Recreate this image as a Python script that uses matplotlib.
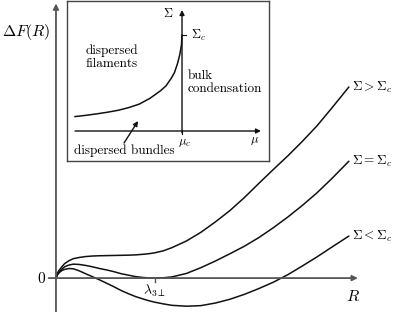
import matplotlib
matplotlib.use("Agg")
from matplotlib import pyplot as plt

plt.rcParams['mathtext.fontset'] = 'cm'

# main panel: free energy of a bundle vs radius R
r_vals = [0, 0.05, 0.1, 0.15, 0.22, 0.3, 0.45, 0.6, 0.8, 1.0, 1.25, 1.5, 1.75, 2.0, 2.25,
          2.5, 2.75, 3.0, 3.2, 3.4, 3.7, 4.0, 4.5, 5.0, 5.5, 6.0, 6.5, 7.0, 7.5, 8.0,
          8.5, 9.0, 9.5, 10.1]
df_above = [0, 0.17, 0.26, 0.32, 0.41, 0.50, 0.60, 0.67, 0.71, 0.74, 0.76, 0.77, 0.775, 0.78, 0.785,
            0.79, 0.80, 0.82, 0.84, 0.87, 0.94, 1.05, 1.28, 1.58, 1.94, 2.33, 2.78, 3.27, 3.75, 4.22,
            4.72, 5.25, 5.85, 6.59]
df_equal = [0, 0.13, 0.20, 0.25, 0.32, 0.39, 0.45, 0.48, 0.47, 0.44, 0.39, 0.33, 0.28, 0.22, 0.15,
            0.10, 0.05, 0.02, 0.005, 0.0, 0.01, 0.04, 0.16, 0.36, 0.59, 0.84, 1.10, 1.40, 1.74, 2.11,
            2.51, 2.94, 3.42, 4.03]
df_below = [0, 0.11, 0.17, 0.22, 0.27, 0.30, 0.33, 0.32, 0.25, 0.16, 0.05, -0.06, -0.18, -0.30, -0.43,
            -0.54, -0.64, -0.72, -0.78, -0.83, -0.89, -0.94, -0.97, -0.95, -0.86, -0.73, -0.56, -0.36, -0.14, 0.12,
            0.42, 0.73, 1.06, 1.45]
curve_labels = [r'$\Sigma > \Sigma_c$', r'$\Sigma = \Sigma_c$', r'$\Sigma < \Sigma_c$']
lambda_3perp = 3.4

# inset: phase diagram sigma vs mu
mu_vals = [0, 0.1, 0.2, 0.3, 0.4, 0.5, 0.6, 0.7, 0.75, 0.8, 0.85, 0.9, 0.93, 0.96, 0.98, 0.995, 1.0]
sigma_vals = [0.15, 0.163, 0.178, 0.195, 0.215, 0.243, 0.28, 0.34, 0.38, 0.42, 0.47, 0.55, 0.61,
              0.71, 0.80, 0.90, 1.0]
mu_c = 1.0
sigma_c = 1.0

AX_COL = '#555555'
TXT = 'cmr10'

fig = plt.figure(figsize=(3.95, 3.12), dpi=100)
ax = fig.add_axes([0, 0, 1, 1])
ax.set_xlim(-1.93, 11.69)
ax.set_ylim(-1.17, 9.59)
ax.axis('off')

arrow = dict(arrowstyle='-|>', mutation_scale=8, lw=1.3, color=AX_COL, shrinkA=0, shrinkB=0)
ax.annotate('', xy=(10.41, 0), xytext=(-0.25, 0), arrowprops=arrow)
ax.annotate('', xy=(0, 9.47), xytext=(0, -1.17), arrowprops=arrow)

for vals, lab in zip([df_above, df_equal, df_below], curve_labels):
    ax.plot(r_vals, vals, color='#111111', lw=1.1, solid_capstyle='round')
    ax.text(r_vals[-1] + 0.12, vals[-1], lab, fontsize=9.5, ha='left', va='center')

ax.plot([lambda_3perp, lambda_3perp], [0, -0.14], color=AX_COL, lw=1.0)
ax.text(lambda_3perp, -0.45, r'$\lambda_{3\perp}$', fontsize=10, ha='center', va='center')
ax.text(-0.35, 0, r'$0$', fontsize=11, ha='right', va='center')
ax.text(-1.03, 8.49, r'$\Delta F(R)$', fontsize=11.5, ha='center', va='center')
ax.text(10.24, -0.62, r'$R$', fontsize=11.5, ha='center', va='center')

# inset
ins = fig.add_axes([67 / 395, 151 / 312, 202 / 395, 160 / 312])
ins.set_xlim(-0.075, 1.813)
ins.set_ylim(-0.3125, 1.354)
ins.set_xticks([])
ins.set_yticks([])
for sp in ins.spines.values():
    sp.set_color('#444444')
    sp.set_linewidth(1.0)

iarrow = dict(arrowstyle='-|>', mutation_scale=7, lw=1.0, color='#111111', shrinkA=0, shrinkB=0)
ins.annotate('', xy=(1.738, 0), xytext=(0, 0), arrowprops=iarrow)
ins.annotate('', xy=(mu_c, 1.26), xytext=(mu_c, -0.02), arrowprops=iarrow)
ins.plot(mu_vals, sigma_vals, color='#111111', lw=1.1)
ins.plot([mu_c, mu_c + 0.037], [sigma_c, sigma_c], color='#111111', lw=0.8)
ins.plot([mu_c, mu_c], [0, -0.03], color='#111111', lw=0.8)

ins.text(mu_c + 0.084, sigma_c, r'$\Sigma_c$', fontsize=9, ha='left', va='center')
ins.text(0.869, 1.229, r'$\Sigma$', fontsize=9, ha='center', va='center')
ins.text(mu_c + 0.02, -0.115, r'$\mu_c$', fontsize=9, ha='center', va='center')
ins.text(1.682, -0.104, r'$\mu$', fontsize=9, ha='center', va='center')
ins.text(0.346, 0.771, 'dispersed\nfilaments', fontsize=9.5, family=TXT,
         ha='center', va='center', linespacing=1.1)
ins.text(1.056, 0.51, 'bulk\ncondensation', fontsize=9.5, family=TXT,
         ha='left', va='center', linespacing=1.1)
ins.text(0.458, -0.208, 'dispersed bundles', fontsize=9.5, family=TXT,
         ha='center', va='center')
ins.annotate('', xy=(0.589, 0.104), xytext=(0.458, -0.125),
             arrowprops=dict(arrowstyle='-|>', mutation_scale=7, lw=1.0,
                             color='#111111', shrinkA=0, shrinkB=0))

fig.savefig('out.png', dpi=100)
